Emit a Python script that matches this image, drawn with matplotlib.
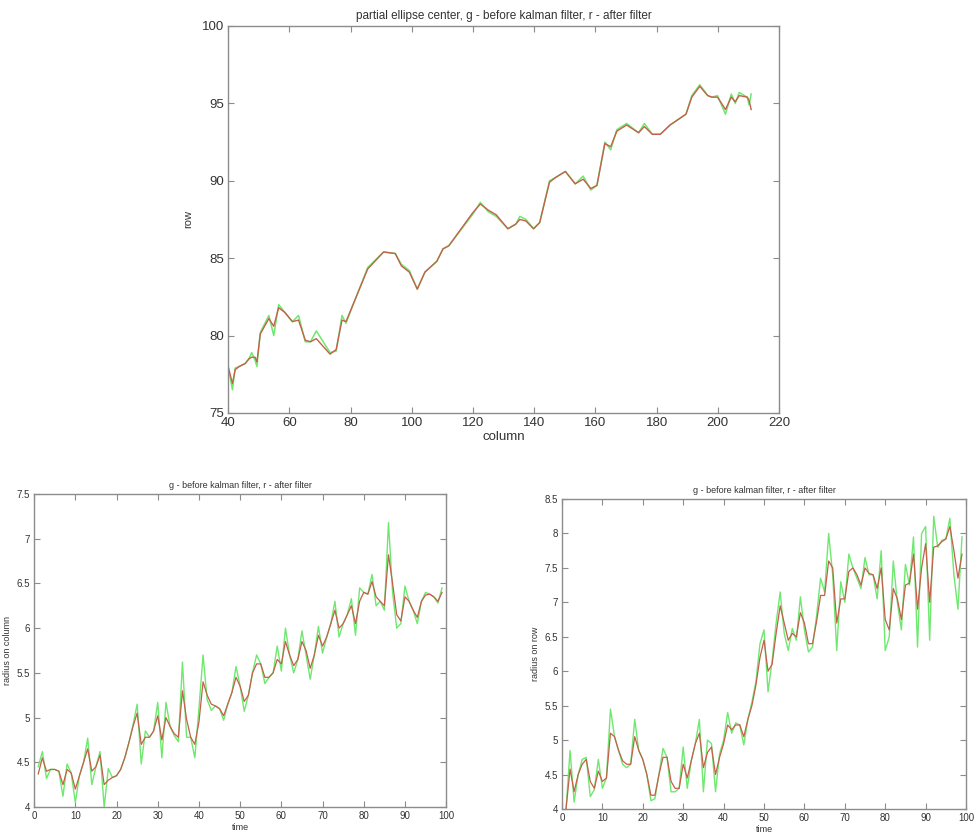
import matplotlib
matplotlib.use("Agg")
import matplotlib.pyplot as plt
import numpy as np

# ── Data ─────────────────────────────────────────────────────
# top: ellipse centre trajectory (column, row)
center_col = [40, 41.4, 42.3, 43.6, 45.6, 46.8, 47.7, 48.8, 49.4, 50.5, 53.3, 54.9,
              56.5, 58.5, 61, 63, 65.2, 66.9, 68.8, 73.3, 75.3, 77.2, 78.5, 85.6,
              90.8, 94.6, 96.6, 99.2, 101.8, 104.3, 108.2, 110.2, 112.1, 119.8, 122.4,
              125, 127.6, 131.4, 134, 135.3, 137.3, 139.8, 141.8, 145, 146.9, 150.2,
              153.4, 156, 158.5, 160.5, 163.1, 165, 167, 170.2, 174.1, 176, 178.6,
              181.2, 184.4, 189.6, 191.5, 194.1, 196.7, 198, 199.9, 202.5, 204.4,
              205.7, 207, 209.6, 210.2, 210.9]
row_before = [78.0, 76.5, 77.9, 78.0, 78.2, 78.5, 78.9, 78.4, 78.0, 80.2, 81.3, 80.0,
              82.0, 81.5, 80.9, 81.3, 79.6, 79.6, 80.3, 78.9, 79.0, 81.3, 80.8, 84.4,
              85.4, 85.3, 84.6, 84.2, 83.0, 84.1, 84.8, 85.6, 85.8, 87.8, 88.6,
              88.0, 87.7, 86.9, 87.2, 87.7, 87.5, 86.9, 87.3, 90.0, 90.2, 90.6,
              89.8, 90.3, 89.4, 89.7, 92.5, 92.0, 93.3, 93.7, 93.1, 93.7, 93.0,
              93.0, 93.6, 94.3, 95.5, 96.2, 95.5, 95.4, 95.5, 94.3, 95.6,
              95.0, 95.7, 95.4, 94.9, 95.6]
row_after = [78.0, 76.9, 77.8, 78.0, 78.2, 78.5, 78.6, 78.6, 78.3, 80.1, 81.1, 80.6,
             81.8, 81.5, 80.9, 81.0, 79.7, 79.6, 79.8, 78.8, 79.1, 81.0, 80.9, 84.3,
             85.4, 85.3, 84.5, 84.1, 83.0, 84.1, 84.8, 85.6, 85.8, 87.9, 88.5,
             88.1, 87.8, 86.9, 87.2, 87.5, 87.4, 86.9, 87.3, 89.9, 90.2, 90.6,
             89.8, 90.1, 89.5, 89.7, 92.4, 92.2, 93.2, 93.6, 93.1, 93.5, 93.0,
             93.0, 93.6, 94.3, 95.4, 96.1, 95.5, 95.4, 95.4, 94.6, 95.4,
             95.1, 95.5, 95.4, 95.2, 94.6]

time = np.arange(1, 100)

# bottom left: radius on column
rc_before = [4.45, 4.62, 4.32, 4.42, 4.42, 4.40, 4.12, 4.48, 4.38, 4.05,
             4.35, 4.50, 4.77, 4.25, 4.45, 4.62, 4.00, 4.43, 4.33, 4.35,
             4.42, 4.55, 4.72, 4.92, 5.15, 4.48, 4.85, 4.78, 4.85, 5.17,
             4.55, 5.17, 4.90, 4.80, 4.73, 5.62, 4.78, 4.78, 4.55, 5.10,
             5.70, 5.20, 5.08, 5.13, 5.10, 4.97, 5.15, 5.28, 5.57, 5.35,
             5.07, 5.25, 5.50, 5.70, 5.60, 5.38, 5.45, 5.50, 5.80, 5.52,
             6.00, 5.70, 5.50, 5.65, 5.97, 5.70, 5.43, 5.70, 6.02, 5.72,
             5.90, 6.05, 6.30, 5.90, 6.05, 6.15, 6.33, 5.92, 6.45, 6.40,
             6.38, 6.60, 6.25, 6.30, 6.20, 7.18, 6.40, 6.00, 6.05, 6.47,
             6.30, 6.20, 6.05, 6.30, 6.40, 6.38, 6.35, 6.28, 6.45]
rc_after = [4.37, 4.55, 4.40, 4.42, 4.42, 4.40, 4.25, 4.42, 4.38, 4.20,
            4.35, 4.50, 4.65, 4.40, 4.45, 4.58, 4.25, 4.30, 4.33, 4.35,
            4.42, 4.55, 4.72, 4.90, 5.05, 4.70, 4.78, 4.78, 4.85, 5.02,
            4.75, 5.00, 4.90, 4.82, 4.78, 5.30, 4.98, 4.78, 4.70, 4.95,
            5.40, 5.25, 5.15, 5.13, 5.10, 5.02, 5.15, 5.28, 5.45, 5.35,
            5.18, 5.25, 5.50, 5.60, 5.60, 5.45, 5.45, 5.50, 5.65, 5.60,
            5.85, 5.70, 5.58, 5.65, 5.85, 5.75, 5.55, 5.70, 5.92, 5.80,
            5.90, 6.05, 6.20, 6.00, 6.05, 6.15, 6.25, 6.05, 6.30, 6.40,
            6.38, 6.52, 6.35, 6.30, 6.25, 6.82, 6.50, 6.15, 6.08, 6.35,
            6.30, 6.20, 6.12, 6.30, 6.37, 6.38, 6.35, 6.30, 6.40]

# bottom right: radius on row
rr_before = [4.00, 4.85, 4.10, 4.50, 4.72, 4.75, 4.18, 4.28, 4.72, 4.30,
             4.45, 5.45, 5.05, 4.85, 4.65, 4.60, 4.65, 5.30, 4.85, 4.72,
             4.50, 4.12, 4.15, 4.50, 4.88, 4.75, 4.25, 4.25, 4.30, 4.90,
             4.30, 4.70, 4.95, 5.30, 4.25, 5.00, 4.95, 4.25, 4.80, 5.00,
             5.40, 5.10, 5.25, 5.22, 4.93, 5.30, 5.55, 5.85, 6.40, 6.60,
             5.70, 6.15, 6.70, 7.15, 6.55, 6.30, 6.62, 6.45, 7.08, 6.60,
             6.28, 6.35, 6.80, 7.35, 7.15, 8.00, 7.40, 6.30, 7.30, 7.00,
             7.70, 7.50, 7.35, 7.20, 7.65, 7.40, 7.40, 7.05, 7.75, 6.30,
             6.50, 7.60, 7.00, 6.60, 7.55, 7.25, 7.95, 6.35, 8.00, 8.10,
             6.45, 8.25, 7.80, 7.90, 7.92, 8.22, 7.40, 6.90, 7.95]
rr_after = [4.00, 4.58, 4.25, 4.50, 4.65, 4.72, 4.40, 4.30, 4.55, 4.40,
            4.45, 5.10, 5.05, 4.85, 4.70, 4.65, 4.65, 5.05, 4.85, 4.72,
            4.50, 4.20, 4.20, 4.50, 4.75, 4.75, 4.40, 4.30, 4.30, 4.65,
            4.45, 4.70, 4.95, 5.10, 4.60, 4.82, 4.90, 4.50, 4.75, 4.95,
            5.22, 5.15, 5.22, 5.22, 5.05, 5.30, 5.50, 5.80, 6.20, 6.45,
            6.00, 6.10, 6.55, 6.95, 6.70, 6.45, 6.55, 6.50, 6.85, 6.70,
            6.40, 6.40, 6.72, 7.10, 7.10, 7.60, 7.50, 6.70, 7.05, 7.05,
            7.45, 7.50, 7.40, 7.25, 7.50, 7.42, 7.40, 7.20, 7.50, 6.75,
            6.60, 7.20, 7.05, 6.75, 7.25, 7.28, 7.70, 6.90, 7.50, 7.85,
            7.00, 7.80, 7.82, 7.88, 7.92, 8.10, 7.75, 7.35, 7.70]

GREEN = "#6fe86f"
RED = "#c4604c"
FRAME = "#8c8c8c"
TEXT = "#333333"

plt.rcParams.update({
    "font.family": ["Liberation Sans", "DejaVu Sans"],
    "axes.edgecolor": FRAME,
    "axes.linewidth": 1.0,
    "xtick.direction": "in",
    "ytick.direction": "in",
    "xtick.color": FRAME,
    "ytick.color": FRAME,
    "xtick.labelcolor": TEXT,
    "ytick.labelcolor": TEXT,
    "xtick.top": True,
    "ytick.right": True,
})


def style_axes(ax, size):
    ax.tick_params(labelsize=size, length=4, width=0.8, pad=3)
    ax.margins(0)


fig = plt.figure(figsize=(9.75, 8.36), dpi=100)

# ── top ──
ax1 = fig.add_axes([0.234, 0.506, 0.565, 0.463])
ax1.plot(center_col, row_before, color=GREEN, linewidth=1.1)
ax1.plot(center_col, row_after, color=RED, linewidth=1.0)
ax1.set_xlim(40, 220)
ax1.set_ylim(75, 100)
ax1.set_xticks(range(40, 221, 20))
ax1.set_yticks(range(75, 101, 5))
style_axes(ax1, 9.5)
ax1.set_title("partial ellipse center, g - before kalman filter, r - after filter",
              fontsize=8.5, color=TEXT, pad=5)
ax1.set_xlabel("column", fontsize=9.5, color=TEXT, labelpad=1)
ax1.set_ylabel("row", fontsize=8, color=TEXT, labelpad=6)

# ── bottom left ──
ax2 = fig.add_axes([0.035, 0.0347, 0.4226, 0.3744])
ax2.plot(time, rc_before, color=GREEN, linewidth=1.0)
ax2.plot(time, rc_after, color=RED, linewidth=0.9)
ax2.set_xlim(0, 100)
ax2.set_ylim(4, 7.5)
ax2.set_xticks(range(0, 101, 10))
ax2.set_yticks(np.arange(4, 7.51, 0.5))
ax2.set_yticklabels(["4", "4.5", "5", "5.5", "6", "6.5", "7", "7.5"])
style_axes(ax2, 7)
ax2.set_title("g - before kalman filter, r - after filter", fontsize=6.5,
              color=TEXT, pad=4)
ax2.set_xlabel("time", fontsize=6.5, color=TEXT, labelpad=1)
ax2.set_ylabel("radius on column", fontsize=6.5, color=TEXT, labelpad=3)

# ── bottom right ──
ax3 = fig.add_axes([0.5764, 0.0323, 0.4144, 0.3708])
ax3.plot(time, rr_before, color=GREEN, linewidth=1.0)
ax3.plot(time, rr_after, color=RED, linewidth=0.9)
ax3.set_xlim(0, 100)
ax3.set_ylim(4, 8.5)
ax3.set_xticks(range(0, 101, 10))
ax3.set_yticks(np.arange(4, 8.51, 0.5))
ax3.set_yticklabels(["4", "4.5", "5", "5.5", "6", "6.5", "7", "7.5", "8", "8.5"])
style_axes(ax3, 7)
ax3.set_title("g - before kalman filter, r - after filter", fontsize=6.5,
              color=TEXT, pad=4)
ax3.set_xlabel("time", fontsize=6.5, color=TEXT, labelpad=1)
ax3.set_ylabel("radius on row", fontsize=6.5, color=TEXT, labelpad=3)

fig.savefig("out.png", dpi=100)
plt.close(fig)
